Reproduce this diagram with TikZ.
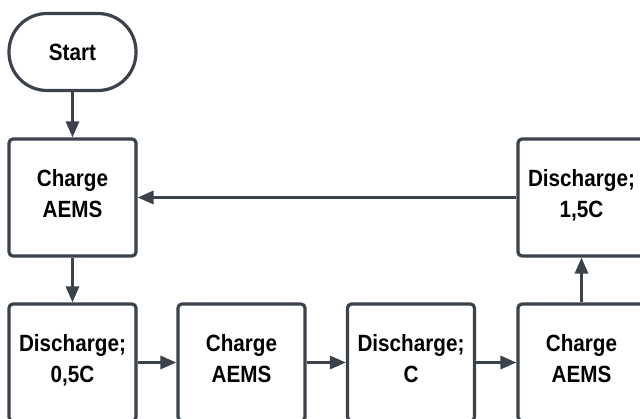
\documentclass[tikz,border=0pt]{standalone}
\usepackage{fontspec}
\setmainfont{Liberation Sans}
\newfontfamily\condfont[FakeStretch=0.88]{Liberation Sans}
\usetikzlibrary{arrows.meta}
\definecolor{edge}{HTML}{3A424C}
\tikzset{
  x=1pt, y=1pt,
  box/.style={draw=edge, line width=3.2pt, rounded corners=4pt, fill=white,
    minimum width=127pt, minimum height=117pt, align=center, text depth=8pt,
    font=\condfont\fontsize{23.5}{30.5}\selectfont\bfseries, inner sep=0pt},
  pill/.style={draw=edge, line width=3.2pt, rounded corners=38pt, fill=white,
    minimum width=127pt, minimum height=77pt, align=center,
    font=\condfont\fontsize{23.5}{30.5}\selectfont\bfseries, inner sep=0pt},
  conn/.style={draw=edge, line width=3.2pt, -{Triangle[length=16pt,width=13pt]}}
}
\begin{document}
\begin{tikzpicture}
\useasboundingbox (0,0) rectangle (640,-419);
\node[pill] (start) at (72.5,-52) {Start};
\node[box] (c1) at (72.5,-197.5) {Charge\\AEMS};
\node[box] (d1) at (72.5,-362.5) {Discharge;\\0,5C};
\node[box] (c2) at (241.5,-362.5) {Charge\\AEMS};
\node[box] (d2) at (411,-362.5) {Discharge;\\C};
\node[box] (c3) at (581.5,-362.5) {Charge\\AEMS};
\node[box] (d3) at (581.5,-197.5) {Discharge;\\1,5C};
\draw[conn] (start) -- (c1);
\draw[conn] (c1) -- (d1);
\draw[conn] (d1) -- (c2);
\draw[conn] (c2) -- (d2);
\draw[conn] (d2) -- (c3);
\draw[conn] (c3) -- (d3);
\draw[conn] (d3) -- (c1);
\end{tikzpicture}
\end{document}
